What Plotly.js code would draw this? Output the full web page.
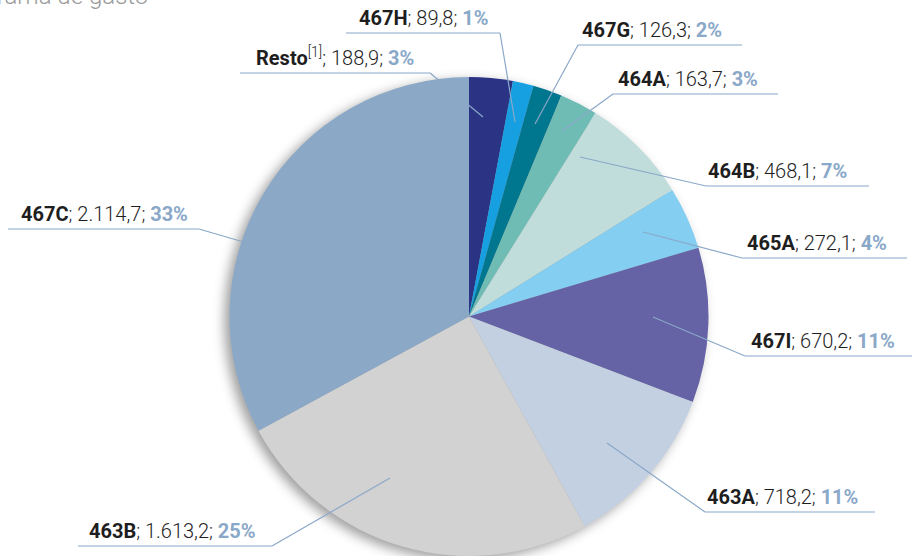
<!DOCTYPE html>
<html>
<head>
<meta charset="utf-8">
<script src="https://cdn.plot.ly/plotly-3.0.1.min.js"></script>
<style>
  html, body { margin: 0; padding: 0; background: #fff; }
  #chart { width: 912px; height: 556px; }
</style>
</head>
<body>
<div id="chart"></div>
<script>
// programa de gasto, millones de euros
var codes = ['Resto', '467H', '467G', '464A', '464B', '465A', '467I', '463A', '463B', '467C'];
var amounts = [188.9, 89.8, 126.3, 163.7, 468.1, 272.1, 670.2, 718.2, 1613.2, 2114.7];
var amountText = ['188,9', '89,8', '126,3', '163,7', '468,1', '272,1', '670,2', '718,2', '1.613,2', '2.114,7'];
var pctText = ['3%', '1%', '2%', '3%', '7%', '4%', '11%', '11%', '25%', '33%'];
var colors = ['#2b3384', '#16a0e2', '#00768f', '#6fbcb5', '#c0dddc', '#84cef1', '#6562a5', '#c3d0e2', '#d2d2d2', '#8ba9c7'];

// label placement (pixels): underline x0, x1, y, side the leader leaves from, leader end inside slice
var labelPos = [
    {x0: 240, x1: 430, y: 73,  from: 'right', ax: 483, ay: 117, tx: 254},
    {x0: 346, x1: 500, y: 33,  from: 'right', ax: 515, ay: 122, tx: 357},
    {x0: 578, x1: 742, y: 45,  from: 'left',  ax: 535, ay: 124, tx: 580},
    {x0: 613, x1: 778, y: 94,  from: 'left',  ax: 562, ay: 131, tx: 616},
    {x0: 706, x1: 869, y: 186, from: 'left',  ax: 580, ay: 157, tx: 706},
    {x0: 742, x1: 907, y: 258, from: 'left',  ax: 643, ay: 232, tx: 745},
    {x0: 745, x1: 912, y: 356, from: 'left',  ax: 653, ay: 317, tx: 749},
    {x0: 705, x1: 875, y: 512, from: 'left',  ax: 607, ay: 443, tx: 705},
    {x0: 78,  x1: 272, y: 546, from: 'right', ax: 390, ay: 478, tx: 87},
    {x0: 8,   x1: 199, y: 229, from: 'right', ax: 247, ay: 243, tx: 19}
];

var W = 912, H = 556;
function px(x) { return x / W; }
function py(y) { return 1 - y / H; }

var trace = {
    type: 'pie',
    labels: codes,
    values: amounts,
    sort: false,
    direction: 'clockwise',
    rotation: 0,
    textinfo: 'none',
    hoverinfo: 'label+value+percent',
    marker: {colors: colors, line: {width: 0}},
    domain: {x: [px(229), px(709)], y: [0, py(77)]},
    showlegend: false
}

var shapes = [];
var annotations = [];
var lineColor = '#8aa8c8';

for (var i = 0; i < codes.length; i++) {
    var p = labelPos[i];
    var sx = p.from == 'right' ? p.x1 : p.x0;
    shapes.push({
        type: 'path',
        xref: 'paper', yref: 'paper',
        path: 'M' + px(p.x0) + ',' + py(p.y) + ' L' + px(p.x1) + ',' + py(p.y) +
              ' M' + px(sx) + ',' + py(p.y) + ' L' + px(p.ax) + ',' + py(p.ay),
        line: {color: lineColor, width: 1.2},
        layer: 'above'
    });

    var code = '<b>' + codes[i] + '</b>';
    if (codes[i] == 'Resto')
        code += '<span style="font-weight:300"><sup>[1]</sup></span>';
    annotations.push({
        xref: 'paper', yref: 'paper',
        x: px(p.tx), y: py(p.y - 1),
        xanchor: 'left', yanchor: 'bottom',
        showarrow: false,
        text: code + '<span style="font-weight:300">; ' + amountText[i] + '; </span>' +
              '<b><span style="color:' + lineColor + '">' + pctText[i] + '</span></b>',
        font: {family: 'Roboto, sans-serif', size: 20, color: '#1e1e1e'}
    });
}

// partly cropped heading at the top
annotations.push({
    xref: 'paper', yref: 'paper',
    x: px(150), y: py(-4),
    xanchor: 'right', yanchor: 'middle',
    showarrow: false,
    text: '<span style="font-weight:300">Distribución por programa de gasto</span>',
    font: {family: 'Roboto, sans-serif', size: 24, color: '#9a9a9a'}
});

var layout = {
    width: W,
    height: H,
    margin: {l: 0, r: 0, t: 0, b: 0},
    paper_bgcolor: '#ffffff',
    plot_bgcolor: '#ffffff',
    shapes: shapes,
    annotations: annotations,
    showlegend: false
}

Plotly.newPlot('chart', [trace], layout, {displayModeBar: false}).then(function () {
    var pl = document.querySelector('.pielayer');
    if (pl) pl.style.filter = 'drop-shadow(-5px 4px 6px rgba(0,0,0,0.38))';
});
</script>
</body>
</html>
